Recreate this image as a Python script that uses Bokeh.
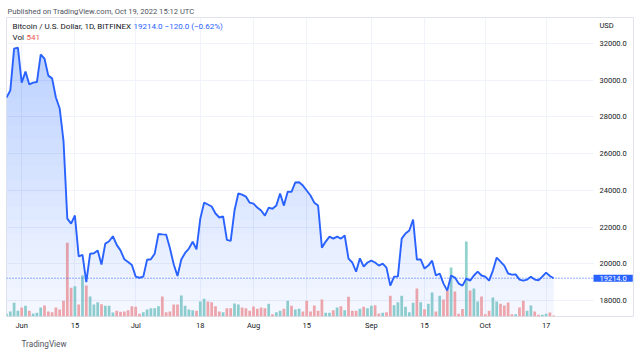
import numpy as np
import pandas as pd
from bokeh.plotting import figure
from bokeh.models import (ColumnDataSource, Range1d, FixedTicker, NumeralTickFormatter,
                          Span, Label, Title)
from bokeh.embed import file_html
from bokeh.resources import INLINE

# ---------------- data ----------------
start_date = "2022-05-28"

close = [
    29050, 29440, 31720, 31780,                                           # May 28-31
    29870, 30470, 29770, 29870, 29900, 31400, 31180, 30250, 30100, 29060,  # Jun 1-10
    28460, 26700, 22460, 22190, 22630, 20400, 20480, 19000, 20550, 20570,  # Jun 11-20
    20720, 19960, 21100, 21230, 21500, 21030, 20730, 20250, 20100, 19930,  # Jun 21-30
    19300, 19240, 19300, 20220, 20250, 20550, 21620, 21600, 21590, 20860,  # Jul 1-10
    19970, 19330, 20230, 20590, 20830, 21200, 20790, 22460, 23330, 23230,  # Jul 11-20
    23120, 22740, 22520, 22580, 21300, 21250, 22900, 23830, 23770, 23660,  # Jul 21-30
    23330,                                                                 # Jul 31
    23280, 23060, 22900, 22620, 23060, 23000, 23170, 23830, 23170, 23930,  # Aug 1-10
    23920, 24430, 24440, 24260, 23990, 23720, 23330, 23170, 20880, 21210,  # Aug 11-20
    21480, 21370, 21480, 21370, 21540, 20280, 20070, 19570, 20300, 19850,  # Aug 21-30
    20070,                                                                 # Aug 31
    20170, 20070, 19900, 20010, 19790, 18810, 19300, 19310, 21370, 21650,  # Sep 1-10
    21810, 22410, 20230, 20240, 19740, 19900, 20170, 19360, 19470, 18920,  # Sep 11-20
    18540, 19360, 19250, 18920, 18810, 19190, 19080, 19360, 19570, 19360,  # Sep 21-30
    19300, 19080, 19630, 20340, 20120, 19900, 19470, 19410, 19420, 19140,  # Oct 1-10
    19080, 19140, 19300, 19140, 19100, 19300, 19520, 19334, 19214,         # Oct 11-19
]

volume = [
    1460, 2700, 7400, 3080,
    4860, 5780, 3080, 1620, 2000, 4860, 5940, 2700, 2320, 4860,
    3780, 8480, 39800, 15500, 16360, 6480, 22140, 16740, 10800, 6480,
    7720, 6640, 5780, 5780, 2160, 3080, 2540, 2700, 3400, 5560,
    5240, 1460, 2320, 3780, 4480, 4480, 5560, 10800, 2320, 2700,
    6480, 6480, 11340, 5780, 3780, 3400, 3080, 8100, 9560, 8100,
    7720, 5560, 2700, 2320, 4480, 4480, 7020, 6480, 4860, 4480,
    3080,
    5400, 4160, 4860, 4480, 6860, 1240, 2320, 3080, 4160, 8480,
    5780, 3780, 4160, 2700, 8480, 2700, 5940, 3080, 9180, 2000,
    2000, 3400, 4860, 5560, 3400, 10640, 3080, 3080, 4160, 5240,
    4480,
    5780, 6100, 1620, 2000, 2320, 11180, 6100, 7720, 11180, 5240,
    2320, 7400, 15120, 7720, 3940, 6860, 12960, 2700, 11180, 9180,
    14040, 26460, 13500, 1460, 4050, 40500, 14040, 15120, 8100, 10800,
    1240, 3080, 10260, 8100, 6860, 5940, 7560, 1240, 1240, 4860,
    8480, 3080, 5940, 2700, 920, 920, 1460, 2160, 541,
]

price_ticks = [18000, 20000, 22000, 24000, 26000, 28000, 30000, 32000]
date_ticks = ["2022-06-01", "2022-06-15", "2022-07-01", "2022-07-18", "2022-08-01",
              "2022-08-15", "2022-09-01", "2022-09-15", "2022-10-01", "2022-10-17"]
date_tick_labels = ["Jun", "15", "Jul", "18", "Aug", "15", "Sep", "15", "Oct", "17"]

symbol_title = "Bitcoin / U.S. Dollar, 1D, BITFINEX"
currency = "USD"
last_price = 19214.0
last_change = -120.0
last_change_pct = -0.62
last_volume = 541
published = "Published on TradingView.com, Oct 19, 2022 15:12 UTC"
brand = "TradingView"

# ---------------- derived ----------------
DAY = 86400000
dates = pd.date_range(start_date, periods=len(close), freq="D")
x = (dates.values.astype("datetime64[ms]").astype(np.int64)).astype(float)
close_arr = np.array(close, dtype=float)
up = [True] + [close[i] >= close[i - 1] for i in range(1, len(close))]
bar_colors = ["#92d2cc" if u else "#f7a9a7" for u in up]
tick_ms = [float(pd.Timestamp(d).value // 10**6) for d in date_ticks]

# layout (pixels)
FRAME_W, FRAME_H = 627, 299       # frame includes the price-scale strip on the right
PANE_W = 587                      # plotting pane width, price scale to its right
PX_PER_DAY = 3.8
x_start = x[0]
x_range = Range1d(x_start, x_start + FRAME_W / PX_PER_DAY * DAY)
axis_x = x_start + PANE_W / PX_PER_DAY * DAY
y_lo, y_hi = 17128, 33417
y_range = Range1d(y_lo, y_hi)

FONT = "Roboto"
TXT = "#131722"

p = figure(frame_width=FRAME_W, frame_height=FRAME_H, x_range=x_range, y_range=y_range,
           y_axis_location="right", toolbar_location=None, output_backend="svg",
           min_border_left=6, min_border_top=17, min_border_right=7, min_border_bottom=40,
           background_fill_color="white", border_fill_color="white")
p.extra_y_ranges = {"vol": Range1d(0, max(volume) * FRAME_H / 75.0)}

p.title = Title(text=published, align="left", offset=1, standoff=4,
                text_font=FONT, text_font_size="7.6px", text_font_style="normal",
                text_color="#50535e")
p.add_layout(Title(text=brand, align="left", offset=15, standoff=9,
                   text_font=FONT, text_font_size="8.2px", text_font_style="normal",
                   text_color="#50535e"), "below")

src = ColumnDataSource(dict(x=x, close=close_arr, volume=volume, color=bar_colors))

# volume bars
p.vbar(x="x", top="volume", width=0.72 * DAY, bottom=0, source=src, y_range_name="vol",
       fill_color="color", line_color=None)

# gradient-like area fill: stacked translucent layers
p.varea(x=x, y1=np.full(len(x), y_lo), y2=close_arr, fill_color="#2962ff", fill_alpha=0.05)
for lv in np.linspace(y_lo + 800, 32000, 20):
    p.varea(x=x, y1=np.full(len(x), lv), y2=np.maximum(close_arr, lv),
            fill_color="#2962ff", fill_alpha=0.0135)

# price line
p.line(x="x", y="close", source=src, line_color="#2962ff", line_width=1.9)

# last price dotted line
p.add_layout(Span(location=last_price, dimension="width", line_color="#2962ff",
                  line_dash="1 2", line_width=1))

# axes
p.yaxis.ticker = FixedTicker(ticks=price_ticks)
p.yaxis.formatter = NumeralTickFormatter(format="0.0")
p.yaxis.fixed_location = axis_x
p.xaxis.ticker = FixedTicker(ticks=tick_ms)
p.xaxis.major_label_overrides = {t: l for t, l in zip(tick_ms, date_tick_labels)}
for ax in (p.xaxis, p.yaxis):
    ax.axis_line_color = None
    ax.major_tick_line_color = None
    ax.minor_tick_line_color = None
    ax.major_tick_out = 0
    ax.major_tick_in = 0
    ax.major_label_text_font = FONT
    ax.major_label_text_font_size = "7.5px"
    ax.major_label_text_color = TXT
p.yaxis.major_label_standoff = 6
p.xaxis.major_label_standoff = 4

p.xgrid.grid_line_color = "#f0f3fa"
p.ygrid.grid_line_color = "#f0f3fa"
try:
    p.ygrid.cross_bounds = (x_start, axis_x)
except Exception:
    pass
p.outline_line_color = "#e0e3eb"

# in-pane texts (frame-relative screen units)
def lab(text, sx, sy, color=TXT, size="8px"):
    p.add_layout(Label(x=sx, y=sy, x_units="screen", y_units="screen", text=text,
                       text_color=color, text_font=FONT, text_font_size=size,
                       text_baseline="middle"))

lab(symbol_title, 6, FRAME_H - 9)
lab(f"{last_price:.1f} \u2212{abs(last_change):.1f} (\u2212{abs(last_change_pct):.2f}%)",
    127, FRAME_H - 9, color="#2962ff")
lab("Vol", 6, FRAME_H - 20)
lab(f"{last_volume}", 20, FRAME_H - 20, color="#ef5350")
lab(currency, PANE_W + 6, FRAME_H - 8, size="7.5px")

p.add_layout(Label(x=PANE_W, y=last_price, x_units="screen", y_units="data",
                   text=f"{last_price:.1f}", text_color="white", text_font=FONT,
                   text_font_size="7.5px", text_baseline="middle",
                   background_fill_color="#2962ff", padding=(6, 1)))

open("out.html", "w").write(file_html(p, INLINE))
